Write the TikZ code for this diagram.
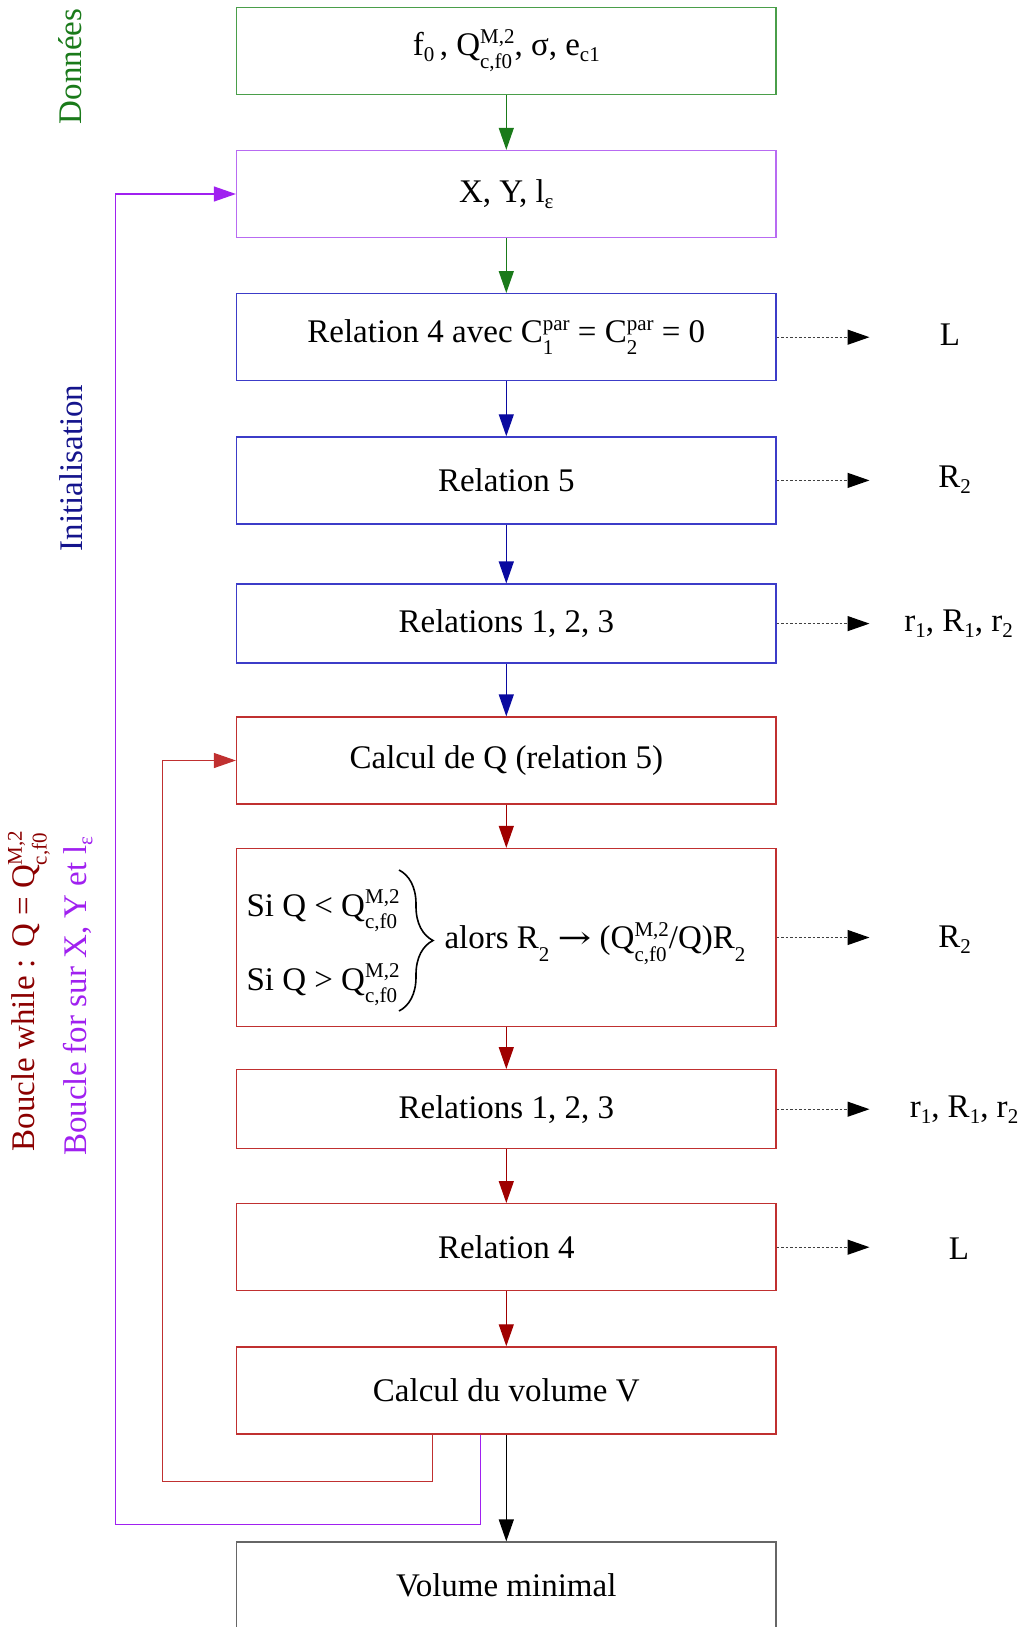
\documentclass[tikz,border=0pt]{standalone}
\usepackage{fontspec}
\setmainfont{Liberation Serif}
\newfontfamily\arrowfont{DejaVu Serif}
\usetikzlibrary{arrows.meta, decorations.pathreplacing}
\definecolor{donneesGreen}{HTML}{1A7A1A}
\definecolor{boxGreen}{HTML}{4A9E4A}
\definecolor{loopPurple}{HTML}{A020F0}
\definecolor{boxPurple}{HTML}{B86BF2}
\definecolor{initNavy}{HTML}{14148C}
\definecolor{arrowBlue}{HTML}{0A0AA0}
\definecolor{boxBlue}{HTML}{3C3CC8}
\definecolor{whileRed}{HTML}{8B0000}
\definecolor{arrowRed}{HTML}{A00000}
\definecolor{boxRed}{HTML}{C03030}
\definecolor{boxGrey}{HTML}{666666}

% indices in text mode
\newsavebox{\hiBox}
\newsavebox{\loBox}
\newcommand{\lo}[2][0.18em]{\raisebox{-#1}{\fontsize{21}{21}\selectfont #2}}
\newcommand{\hi}[1]{\raisebox{0.37em}{\fontsize{21}{21}\selectfont #1}}
\newcommand{\hilo}[2]{\sbox{\hiBox}{\hi{#1}}\sbox{\loBox}{\lo[0.38em]{#2}}%
  \ifdim\wd\hiBox>\wd\loBox\rlap{\usebox{\loBox}}\usebox{\hiBox}\else\rlap{\usebox{\hiBox}}\usebox{\loBox}\fi}
\newcommand{\Qmc}{Q\hilo{M,2}{c,f0}}
\newcommand{\givesto}{{\arrowfont\fontsize{31}{31}\selectfont\scalebox{1.3}[1]{→}}}

\begin{document}
\begin{tikzpicture}[
  x=1pt, y=-1pt,
  font=\fontsize{33}{40}\selectfont,
  stage/.style={rectangle, draw=#1, line width=1.3pt,
    minimum width=539.5pt, minimum height=87pt, inner sep=0pt},
  flow/.style={-{Triangle[length=22pt, width=15pt]}, draw=#1, line width=1.3pt},
  loopback/.style={flow=#1, line width=1.1pt},
  yield/.style={-{Triangle[length=22pt, width=15pt, black]}, draw=black!75,
    line width=1.2pt, dash pattern=on 2.5pt off 2pt},
  phase/.style={rotate=90, text=#1, inner sep=0pt},
]
\useasboundingbox (0,0) rectangle (1021,1627);

\node[stage=boxGreen]  at (506.3,50.8)  (data)  {f\lo{0}\,, \Qmc, σ, e\lo{c1}};
\node[stage=boxPurple] at (506.3,194)   (xyl)   {X, Y, l\lo{ε}};
\node[stage=boxBlue]   at (506.3,337.2) (rel4a) {Relation 4 avec C\hilo{par}{1} = C\hilo{par}{2} = 0};
\node[stage=boxBlue]   at (506.3,480.4) (rel5a) {Relation 5};
\node[stage=boxBlue, minimum height=79pt] at (506.3,623.6) (rel123a) {Relations 1, 2, 3};

% boucle while
\node[stage=boxRed] at (506.3,760.5) (calcQ) {Calcul de Q (relation 5)};
\node[stage=boxRed, minimum height=178pt] at (506.3,937.5) (adjust) {};
\node[anchor=base west] at (243,916) (siLess) {Si Q < \Qmc};
\node[anchor=base west] at (243,990) (siMore) {Si Q > \Qmc};
\draw[decorate, decoration={brace, amplitude=34pt}, line width=1.6pt] (399,870) -- (399,1011);
\node[anchor=base west] at (441,948.5) (alors) {alors R\lo[0.38em]{2} \givesto{} (\Qmc/Q)R\lo[0.38em]{2}};
\node[stage=boxRed, minimum height=79pt] at (506.3,1109.2) (rel123b) {Relations 1, 2, 3};
\node[stage=boxRed] at (506.3,1247.2) (rel4b) {Relation 4};
\node[stage=boxRed] at (506.3,1390.4) (vol)   {Calcul du volume V};
\node[stage=boxGrey] at (506.3,1585.5) (volmin) {Volume minimal};

\node[phase=donneesGreen] at (70,66.4)  (donnees) {Données};
\node[phase=initNavy]     at (71,468)   (init)    {Initialisation};
\node[phase=whileRed]     at (29,991)   (bwhile)  {Boucle while : Q = \Qmc};
\node[phase=loopPurple]   at (78,996)   (bfor)    {Boucle for sur X, Y et l\lo{ε}};

\draw[flow=donneesGreen] (data)    -- (xyl);
\draw[flow=donneesGreen] (xyl)     -- (rel4a);
\draw[flow=arrowBlue]    (rel4a)   -- (rel5a);
\draw[flow=arrowBlue]    (rel5a)   -- (rel123a);
\draw[flow=arrowBlue]    (rel123a) -- (calcQ);
\draw[flow=arrowRed]     (calcQ)   -- (adjust);
\draw[flow=arrowRed]     (adjust)  -- (rel123b);
\draw[flow=arrowRed]     (rel123b) -- (rel4b);
\draw[flow=arrowRed]     (rel4b)   -- (vol);
\draw[flow=black]        (vol)     -- (volmin);

\coordinate (whileTurn) at (162.9,1481.7);
\coordinate (forTurn)   at (115.2,1524.2);
\draw[loopback=boxRed]     ([xshift=-73.6pt]vol.south) |- (whileTurn) |- (calcQ.west);
\draw[loopback=loopPurple] ([xshift=-25.9pt]vol.south) |- (forTurn) |- (xyl.west);

% sorties
\coordinate (tipline) at (869.5,0);
\node at (950,335)    (outL)    {L};
\node at (954.6,480)  (outR)    {R\lo{2}};
\node at (958.7,624)  (outr)    {r\lo{1}, R\lo{1}, r\lo{2}};
\node at (954.6,940)  (outRb)   {R\lo{2}};
\node at (964,1110)   (outrb)   {r\lo{1}, R\lo{1}, r\lo{2}};
\node at (959,1249)   (outLb)   {L};
\draw[yield] (rel4a.east)   -- (rel4a.east -| tipline);
\draw[yield] (rel5a.east)   -- (rel5a.east -| tipline);
\draw[yield] (rel123a.east) -- (rel123a.east -| tipline);
\draw[yield] (adjust.east)  -- (adjust.east -| tipline);
\draw[yield] (rel123b.east) -- (rel123b.east -| tipline);
\draw[yield] (rel4b.east)   -- (rel4b.east -| tipline);

\end{tikzpicture}
\end{document}
